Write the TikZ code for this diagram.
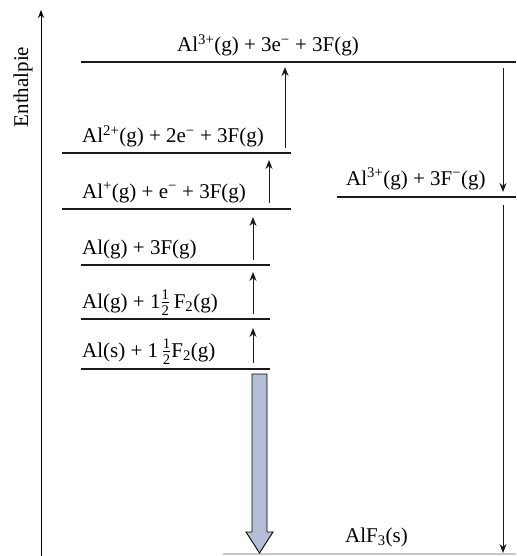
\documentclass[tikz,border=0pt]{standalone}
\usepackage{amsmath}
\usepackage{fontspec}
\setmainfont{Liberation Serif}
\usetikzlibrary{arrows.meta}
\newcommand\mn{\textsuperscript{\char"2212}}
\newcommand\hlf{$\frac{\text{1}}{\text{2}}$}
\definecolor{bigarrow}{HTML}{B3BED6}
\definecolor{lvlcol}{HTML}{1A1A1A}
\tikzset{
  lbl/.style={inner sep=0pt, anchor=base west, font=\fontsize{21}{25}\selectfont},
  lvl/.style={draw=lvlcol, line width=2.3pt},
  arr/.style={draw=lvlcol, line width=1pt, -{Stealth[length=9pt,width=7pt]}},
  axisline/.style={draw=black, line width=0.8pt, -{Stealth[length=8pt,width=6pt]}},
}
\begin{document}
\begin{tikzpicture}[x=1pt,y=-1pt]
\useasboundingbox (0,0) rectangle (516,556);
% axis
\coordinate (ax0) at (41,556);
\coordinate (ax1) at (41,10);
\draw[axisline] (ax0) -- (ax1);
\node[inner sep=0pt, rotate=90, font=\fontsize{21}{25}\selectfont] (ylab) at (23,87) {Enthalpie};
% levels
\draw[lvl] (81,369) coordinate (L1w) -- (270,369) coordinate (L1e);
\draw[lvl] (81,319) coordinate (L2w) -- (270,319) coordinate (L2e);
\draw[lvl] (81,265) coordinate (L3w) -- (270,265) coordinate (L3e);
\draw[lvl] (62,209) coordinate (L4w) -- (291,209) coordinate (L4e);
\draw[lvl] (62,153) coordinate (L5w) -- (291,153) coordinate (L5e);
\draw[lvl] (81,62) coordinate (L6w) -- (516,62) coordinate (L6e);
\draw[lvl] (337,197) coordinate (Rw) -- (516,197) coordinate (Re);
\draw[draw=black!22, line width=1.2pt] (223,554) coordinate (Bw) -- (516,554) coordinate (Be);
% labels
\node[lbl] (t1) at (82,357) {Al(s) + 1\,\hlf F\textsubscript{2}(g)};
\node[lbl] (t2) at (82,308) {Al(g) + 1\hlf\,F\textsubscript{2}(g)};
\node[lbl] (t3) at (82,254) {Al(g) + 3F(g)};
\node[lbl] (t4) at (82,198) {Al\textsuperscript{+}(g) + e\mn{} + 3F(g)};
\node[lbl] (t5) at (82,143) {Al\textsuperscript{2+}(g) + 2e\mn{} + 3F(g)};
\node[lbl] (t6) at (177,52) {Al\textsuperscript{3+}(g) + 3e\mn{} + 3F(g)};
\node[lbl] (t7) at (346,185) {Al\textsuperscript{3+}(g) + 3F\mn(g)};
\node[lbl] (t8) at (345,542) {AlF\textsubscript{3}(s)};
% thin arrows
\coordinate (a1s) at (253,363); \coordinate (a1e) at (253,328);
\coordinate (a2s) at (253,314); \coordinate (a2e) at (253,272);
\coordinate (a3s) at (253,260); \coordinate (a3e) at (253,217);
\coordinate (a4s) at (269,203); \coordinate (a4e) at (269,160);
\coordinate (a5s) at (285,148); \coordinate (a5e) at (285,67);
\coordinate (a6s) at (503,68);  \coordinate (a6e) at (503,192);
\coordinate (a7s) at (503,205); \coordinate (a7e) at (503,553);
\draw[arr] (a1s) -- (a1e);
\draw[arr] (a2s) -- (a2e);
\draw[arr] (a3s) -- (a3e);
\draw[arr] (a4s) -- (a4e);
\draw[arr] (a5s) -- (a5e);
\draw[arr] (a6s) -- (a6e);
\draw[arr] (a7s) -- (a7e);
% big arrow
\coordinate (bt) at (259.5,553);
\draw[fill=bigarrow, draw=black, line width=0.9pt, line join=miter]
  (252,374) -- (267,374) -- (267,532) -- (273,532) -- (bt) -- (246,532) -- (252,532) -- cycle;
\end{tikzpicture}
\end{document}
